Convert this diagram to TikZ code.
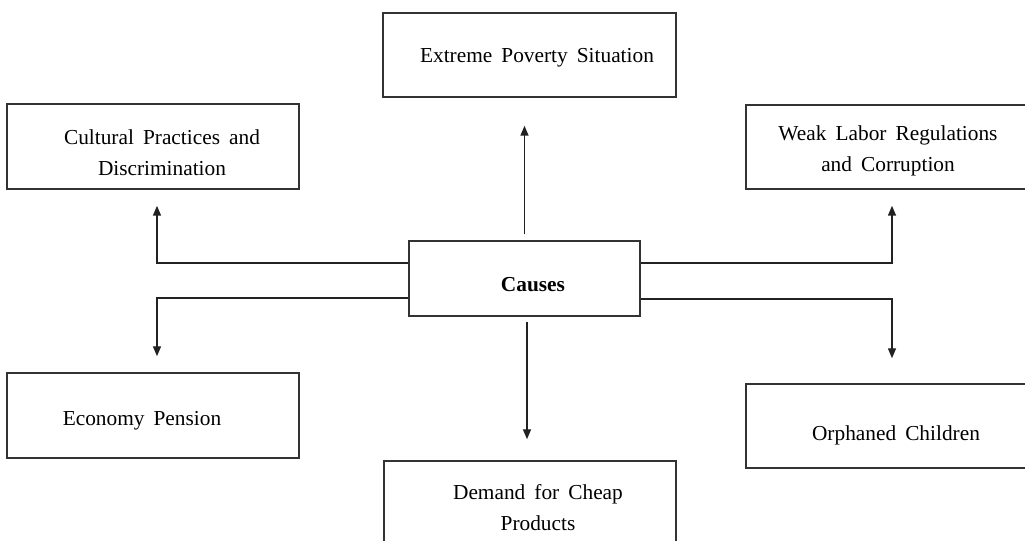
\documentclass[tikz,border=0pt]{standalone}
\usepackage{fontspec}
\setmainfont{Liberation Serif}[WordSpace=1.7]
\usetikzlibrary{arrows.meta,calc}
\definecolor{boxline}{HTML}{333333}
\definecolor{conline}{HTML}{222222}
\tikzset{
  causebox/.style={draw=boxline, line width=1.1pt, inner sep=0pt, minimum width=#1*0.75pt},
  causebox/.default=292,
  lbl/.style={font=\fontsize{16}{23.25}\selectfont, inner sep=0pt, anchor=base, align=center},
  conn/.style={draw=conline, line width=1.1pt, -{Triangle[length=7.5pt,width=6pt]}},
}
\begin{document}
\begin{tikzpicture}[x=0.75pt,y=-0.75pt]
\useasboundingbox (0,0) rectangle (1025,541);
\clip (0,0) rectangle (1025,541);
\fill[white] (0,0) rectangle (1025,541);
% boxes
\node[causebox=293, minimum height=84*0.75pt] (pov) at (529.5,55) {};
\node[causebox=292, minimum height=85*0.75pt] (cult) at (153,146.5) {};
\node[causebox=292, minimum height=84*0.75pt] (weak) at (892,147) {};
\node[causebox=231, minimum height=75*0.75pt] (causes) at (524.5,278.5) {};
\node[causebox=292, minimum height=85*0.75pt] (econ) at (153,415.5) {};
\node[causebox=292, minimum height=84*0.75pt] (orph) at (892,426) {};
\node[causebox=292, minimum height=84*0.75pt] (demand) at (530,503) {};
% labels (base = baseline of the last line)
\node[lbl] (povT) at (537,63) {Extreme Poverty Situation};
\node[lbl] (cultT) at (162,176) {Cultural Practices and\\Discrimination};
\node[lbl] (weakT) at (888,172) {Weak Labor Regulations\\and Corruption};
\node[lbl, font=\fontsize{16}{23.25}\selectfont\bfseries] (causesT) at (533,292) {Causes};
\node[lbl] (econT) at (142,426) {Economy Pension};
\node[lbl] (orphT) at (896,441) {Orphaned Children};
\node[lbl] (demandT) at (538,530) {Demand for Cheap\\Products};
% connector end points
\coordinate (dnS) at ($(causes.south)+(2.5,5)$);
\coordinate (dnE) at ($(demand.north)+(-3,-21)$);
% connectors
\draw[conn] ($(causes.north)+(0,-6)$) -- ($(causes.north |- pov.south)+(0,28)$);
\draw[conn] (dnS) -- (dnS |- dnE);
\draw[conn] ($(causes.west)+(0,-15.5)$) -| ($(cult.south)+(4,16)$);
\draw[conn] ($(causes.west)+(0,19.5)$) -| ($(econ.north)+(4,-16)$);
\draw[conn] ($(causes.east)+(0,-15.5)$) -| ($(weak.south)+(0,16)$);
\draw[conn] ($(causes.east)+(0,20.5)$) -| ($(orph.north)+(0,-25)$);
\end{tikzpicture}
\end{document}
